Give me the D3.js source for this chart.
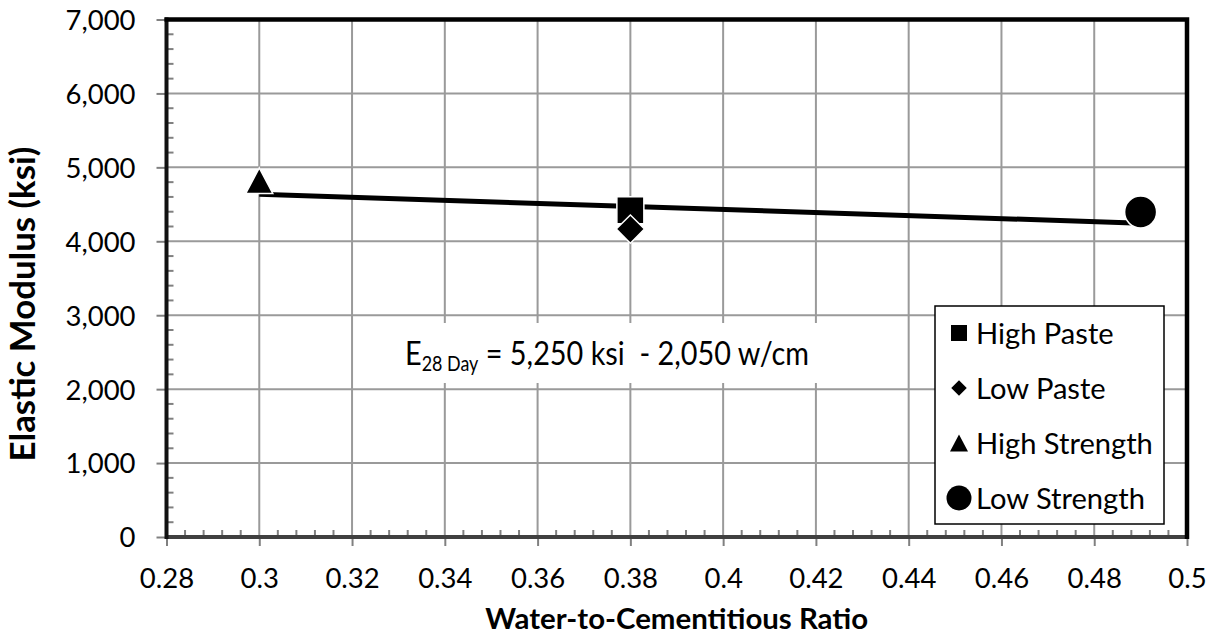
<!DOCTYPE html>
<html><head><meta charset="utf-8">
<script src="https://cdn.jsdelivr.net/npm/d3@7"></script>
<style>body{margin:0;background:#fff}svg{display:block}text{font-family:Lato, "Liberation Sans", sans-serif;fill:#000}</style>
</head><body>
<svg id="c" width="1221" height="636"></svg>
<script>
// ---- data ----
const seriesNames = ["High Paste", "Low Paste", "High Strength", "Low Strength"];
const seriesX = [0.38, 0.38, 0.30, 0.49];
const seriesY = [4420, 4165, 4820, 4395];
const trendX = [0.30, 0.49];
const trendY = [4635, 4245];
const xTickValues = [0.28,0.30,0.32,0.34,0.36,0.38,0.40,0.42,0.44,0.46,0.48,0.50];
const xTickLabels = ["0.28","0.3","0.32","0.34","0.36","0.38","0.4","0.42","0.44","0.46","0.48","0.5"];
const yTickValues = [0,1000,2000,3000,4000,5000,6000,7000];
const yTickLabels = ["0","1,000","2,000","3,000","4,000","5,000","6,000","7,000"];
const xTitle = "Water-to-Cementitious Ratio";
const yTitle = "Elastic Modulus (ksi)";

// ---- layout ----
const L = 166.5, T = 19.5, R = 1187, B = 537;
const svg = d3.select("#c");
const x = d3.scaleLinear().domain([0.28, 0.5]).range([L, R]);
const y = d3.scaleLinear().domain([0, 7000]).range([B, T]);

// fit helper: scale font so that a text node reaches a target width
function fitSize(text, weight, target) {
  const t = svg.append("text").style("font-size", "100px").style("font-weight", weight).text(text);
  const w = t.node().getComputedTextLength();
  t.remove();
  return 100 * target / w;
}
const tickFS = fitSize("7,000", "normal", 70);
const legFS = fitSize("Low Strength", "normal", 169);
const xTitleFS = fitSize(xTitle, "bold", 383);
const yTitleFS = fitSize(yTitle, "bold", 315);

// gridlines
const grid = svg.append("g");
grid.selectAll(".gx").data(xTickValues.slice(1, -1)).join("line")
  .attr("x1", d => x(d)).attr("x2", d => x(d)).attr("y1", T).attr("y2", B)
  .attr("stroke", "#9a9a9a").attr("stroke-width", 2);
grid.selectAll(".gy").data(yTickValues.slice(1, -1)).join("line")
  .attr("y1", d => y(d)).attr("y2", d => y(d)).attr("x1", L).attr("x2", R)
  .attr("stroke", "#9a9a9a").attr("stroke-width", 2);

// minor ticks (inside)
const minorX = d3.range(0, 56).map(i => 0.28 + i * 0.004).filter((d, i) => i % 5 !== 0);
const minorY = d3.range(0, 36).map(i => i * 200).filter((d, i) => i % 5 !== 0);
svg.append("g").selectAll("line").data(minorX).join("line")
  .attr("x1", d => x(d)).attr("x2", d => x(d)).attr("y1", B).attr("y2", B - 7)
  .attr("stroke", "#808080").attr("stroke-width", 2);
svg.append("g").selectAll("line").data(minorY).join("line")
  .attr("y1", d => y(d)).attr("y2", d => y(d)).attr("x1", L).attr("x2", L + 7)
  .attr("stroke", "#808080").attr("stroke-width", 2);

// axes with major ticks outside
const xAxis = d3.axisBottom(x).tickValues(xTickValues).tickFormat((d, i) => xTickLabels[i]).tickSizeOuter(0).tickSize(9);
const gx = svg.append("g").attr("transform", `translate(0,${B})`).call(xAxis);
gx.select(".domain").remove();
gx.selectAll(".tick line").attr("stroke", "#808080").attr("stroke-width", 2);
gx.selectAll(".tick text").attr("y", 51).attr("dy", null).style("font-size", tickFS + "px");

const yAxis = d3.axisLeft(y).tickValues(yTickValues).tickFormat((d, i) => yTickLabels[i]).tickSizeOuter(0).tickSize(10).tickPadding(21);
const gy = svg.append("g").attr("transform", `translate(${L},0)`).call(yAxis);
gy.select(".domain").remove();
gy.selectAll(".tick line").attr("stroke", "#808080").attr("stroke-width", 2);
gy.selectAll(".tick text").attr("dy", "0.36em").style("font-size", tickFS + "px");
gx.attr("font-family", null); gy.attr("font-family", null);

// frame
svg.append("line").attr("x1", L).attr("x2", R).attr("y1", B).attr("y2", B).attr("stroke", "#404040").attr("stroke-width", 4);
svg.append("line").attr("x1", L).attr("x2", L).attr("y1", T - 2).attr("y2", B + 2).attr("stroke", "#111").attr("stroke-width", 4);
svg.append("path").attr("d", `M${L - 2},${T}H${R}V${B + 2}`).attr("fill", "none").attr("stroke", "#000").attr("stroke-width", 4.5);

// annotation (larger type, narrowed horizontally to the reference width)
const ann = svg.append("g");
ann.append("rect").attr("x", 382).attr("y", 323).attr("width", 446).attr("height", 60).attr("fill", "#fff");
const annG = ann.append("g");
const at = annG.append("text").attr("x", 0).attr("y", 0).style("font-size", "33px");
at.append("tspan").text("E");
at.append("tspan").attr("dy", 6).style("font-size", "20.5px").text("28 Day");
at.append("tspan").attr("dy", -6).attr("xml:space", "preserve").style("white-space", "pre").text(" = 5,250 ksi  - 2,050 w/cm");
{
  const w = at.node().getComputedTextLength();
  const k = Math.min(1, 404 / w);
  annG.attr("transform", `translate(405,365) scale(${k},1)`);
}

// trend line
svg.append("path").datum(d3.zip(trendX, trendY))
  .attr("d", d3.line().x(d => x(d[0])).y(d => y(d[1])))
  .attr("stroke", "#000").attr("stroke-width", 5).attr("fill", "none");

// marker shapes
const boxTri = { draw(ctx, size) { const w = Math.sqrt(size); const h = w * 0.95; ctx.moveTo(0, -h / 2); ctx.lineTo(w / 2, h / 2); ctx.lineTo(-w / 2, h / 2); ctx.closePath(); } };
const shapes = [
  { type: d3.symbolSquare, size: 27 * 27, rot: 0 },
  { type: d3.symbolSquare, size: 20 * 20, rot: 45 },
  { type: boxTri, size: 27 * 27, rot: 0 },
  { type: d3.symbolCircle, size: Math.PI * 16 * 16, rot: 0 }
];
const legShapes = [
  { type: d3.symbolSquare, size: 16 * 16, rot: 0 },
  { type: d3.symbolSquare, size: 11 * 11, rot: 45 },
  { type: boxTri, size: 18 * 18, rot: 0 },
  { type: d3.symbolCircle, size: Math.PI * 12.5 * 12.5, rot: 0 }
];
const pts = seriesNames.map((n, i) => ({ n, x: seriesX[i], y: seriesY[i], s: shapes[i] }));
svg.append("g").selectAll("path").data(pts).join("path")
  .attr("d", d => d3.symbol().type(d.s.type).size(d.s.size)())
  .attr("transform", d => `translate(${x(d.x)},${y(d.y)}) rotate(${d.s.rot})`)
  .attr("fill", "#000").attr("stroke", "#fff").attr("stroke-width", 1.5);

// legend
const lg = svg.append("g");
lg.append("rect").attr("x", 935).attr("y", 306).attr("width", 229).attr("height", 218)
  .attr("fill", "#fff").attr("stroke", "#000").attr("stroke-width", 1.5);
const rows = lg.selectAll("g").data(seriesNames).join("g")
  .attr("transform", (d, i) => `translate(0,${333 + i * 55})`);
rows.append("path").attr("d", (d, i) => d3.symbol().type(legShapes[i].type).size(legShapes[i].size)())
  .attr("transform", (d, i) => `translate(959,0) rotate(${legShapes[i].rot})`).attr("fill", "#000");
rows.append("text").attr("x", 976).attr("dy", "0.36em").style("font-size", legFS + "px").text(d => d);

// axis titles
svg.append("text").attr("x", (L + R) / 2).attr("y", 629).attr("text-anchor", "middle")
  .style("font-size", xTitleFS + "px").style("font-weight", "bold").text(xTitle);
svg.append("text").attr("transform", `translate(35,304) rotate(-90)`).attr("text-anchor", "middle")
  .style("font-size", yTitleFS + "px").style("font-weight", "bold").text(yTitle);
</script>
</body></html>
